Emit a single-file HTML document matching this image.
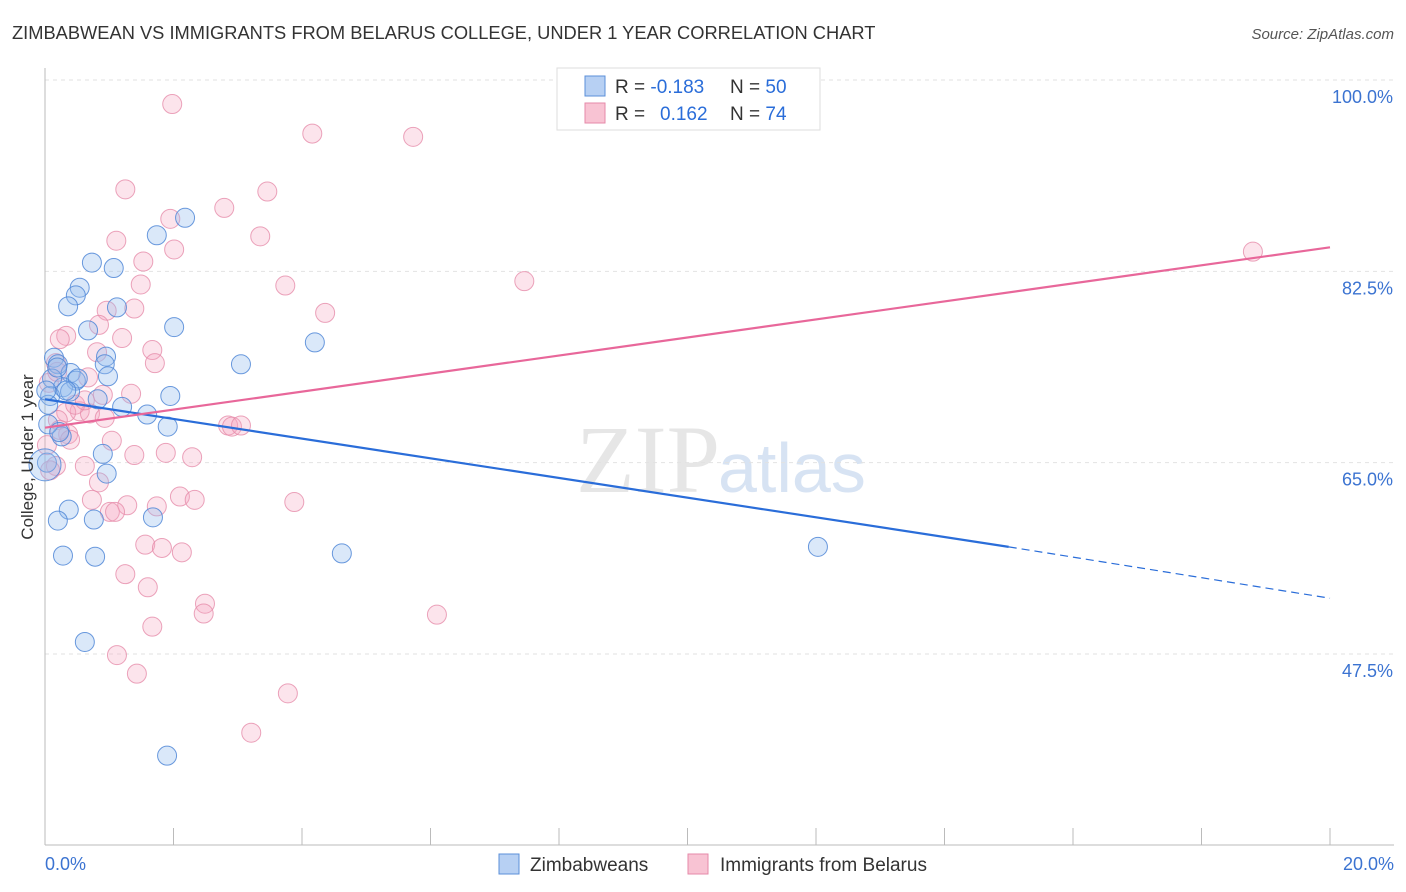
<!DOCTYPE html>
<html><head><meta charset="utf-8"><style>
body{margin:0;background:#fff;font-family:"Liberation Sans",sans-serif}
svg{display:block}
</style></head><body>
<svg id="chart" width="1406" height="892" xmlns="http://www.w3.org/2000/svg">
<text x="12" y="39" font-size="18.3" fill="#333">ZIMBABWEAN VS IMMIGRANTS FROM BELARUS COLLEGE, UNDER 1 YEAR CORRELATION CHART</text>
<text x="1394" y="39" font-size="15" fill="#555" font-style="italic" text-anchor="end">Source: ZipAtlas.com</text>
<text x="720" y="492" font-size="96" fill="#e6e6e6" text-anchor="end" font-family="Liberation Serif">ZIP</text>
<text x="718" y="492" font-size="70" fill="#d7e3f3">atlas</text>
<g id="grid"></g><g id="axes"></g><g id="pts"></g><g id="lines"></g>
<text x="33" y="457" font-size="17" fill="#333" text-anchor="middle" transform="rotate(-90 33 457)">College, Under 1 year</text>
<g>
<rect x="557" y="68" width="263" height="62" fill="#fff" stroke="#ddd"/>
<rect x="585" y="76" width="20" height="20" fill="#b7d0f3" stroke="#5b8fd8"/>
<rect x="585" y="103" width="20" height="20" fill="#f8c3d3" stroke="#e68aa8"/>
<text x="615" y="93" font-size="19" fill="#333">R = <tspan fill="#2a6dd9">-0.183</tspan><tspan x="730">N = </tspan><tspan fill="#2a6dd9">50</tspan></text>
<text x="615" y="120" font-size="19" fill="#333">R = <tspan x="660" fill="#2a6dd9">0.162</tspan><tspan x="730">N = </tspan><tspan fill="#2a6dd9">74</tspan></text>
</g>
<g>
<rect x="499" y="854" width="20" height="20" fill="#b7d0f3" stroke="#5b8fd8"/>
<text x="530" y="871" font-size="19" fill="#333">Zimbabweans</text>
<rect x="688" y="854" width="20" height="20" fill="#f8c3d3" stroke="#e68aa8"/>
<text x="720" y="871" font-size="19" fill="#333">Immigrants from Belarus</text>
</g>
</svg>
<script>
const blueX=[2.18,1.74,0.73,1.07,0.54,0.48,0.36,1.12,2.01,0.67,3.05,4.20,0.14,0.95,0.20,0.93,0.98,0.40,0.48,0.28,0.39,0.82,1.95,1.20,1.59,1.91,0.08,0.05,0.26,0.05,0.90,0.96,0.03,1.68,0.37,0.20,0.76,0.28,0.78,4.62,12.03,0.62,1.90,0.0,0.11,0.22,0.02,0.19,0.51,0.33];
const blueY=[87.4,85.8,83.3,82.8,81.0,80.3,79.3,79.2,77.4,77.1,74.0,76.0,74.6,74.7,74.0,74.0,72.9,73.2,72.5,71.9,71.5,70.8,71.1,70.1,69.4,68.3,71.1,70.3,67.4,68.5,65.8,64.0,65.0,60.0,60.7,59.7,59.8,56.5,56.4,56.7,57.3,48.6,38.2,64.8,72.7,67.8,71.6,73.7,72.7,71.6];
const pinkX=[1.98,4.16,5.73,1.25,3.46,2.79,1.95,2.01,3.35,1.11,1.53,3.74,1.49,7.46,4.36,1.39,0.96,0.84,0.33,0.23,1.20,1.67,0.81,1.71,0.17,0.67,0.06,1.34,0.90,0.54,0.33,0.70,2.85,2.91,3.05,0.20,1.04,0.36,2.29,1.88,1.39,0.62,0.17,0.03,0.84,2.10,2.33,1.74,1.28,3.88,1.01,0.73,1.09,1.56,1.82,2.13,1.25,1.60,2.49,2.47,6.10,1.67,1.12,1.43,3.78,3.21,18.80,0.19,0.47,0.08,0.62,0.23,0.93,0.39];
const pinkY=[97.8,95.1,94.8,90.0,89.8,88.3,87.3,84.5,85.7,85.3,83.4,81.2,81.3,81.6,78.7,79.1,78.9,77.6,76.6,76.3,76.4,75.3,75.1,74.1,74.1,72.8,72.3,71.3,71.2,69.7,69.6,69.5,68.4,68.3,68.4,68.9,67.0,67.6,65.5,65.9,65.7,64.7,64.7,66.6,63.2,61.9,61.6,61.0,61.1,61.4,60.5,61.6,60.5,57.5,57.2,56.8,54.8,53.6,52.1,51.2,51.1,50.0,47.4,45.7,43.9,40.3,84.3,73.3,70.3,64.3,70.7,68.0,69.1,67.1];
const yTicks=[100,82.5,65,47.5];
const yTickLabels=["100.0%","82.5%","65.0%","47.5%"];
const xTickLabels=["0.0%","20.0%"];
const blueTrend=[70.8,57.3,15,52.6];
const pinkTrend=[68.2,84.7];
const NS="http://www.w3.org/2000/svg";
const X0=45,X1=1330,YT=80,YB=654;
const sx=v=>X0+v/20*(X1-X0);
const sy=v=>YT+(100-v)/(100-47.5)*(YB-YT);
function mk(t,a,p){const e=document.createElementNS(NS,t);for(const k in a)e.setAttribute(k,a[k]);p.appendChild(e);return e;}
const grid=document.getElementById('grid'),axes=document.getElementById('axes');
yTicks.forEach((t,i)=>{
 const l=mk('line',{x1:X0,x2:1394,y1:sy(t),y2:sy(t),stroke:'#e2e2e2','stroke-dasharray':'4,4'},grid);
 
 
 const tx=mk('text',{x:1393,y:sy(t)+23,'font-size':18,fill:'#3b73d1','text-anchor':'end'},axes);
 tx.textContent=yTickLabels[i];
 
 
});
const ax=mk('line',{x1:X0,x2:X0,y1:68,y2:845,stroke:'#bbb'},axes);


const bx=mk('line',{x1:X0,x2:1394,y1:845,y2:845,stroke:'#bbb'},axes);


for(let i=0;i<=10;i++){
 const tk=mk('line',{x1:sx(i*2),x2:sx(i*2),y1:828,y2:845,stroke:'#bbb'},axes);
 
 
}
[[0,'start',X0],[1,'end',1394]].forEach(([i,a,x])=>{
 const t=mk('text',{x:x,y:870,'font-size':18,fill:'#3b73d1','text-anchor':a},axes);
 t.textContent=xTickLabels[i];
 
 
});
const pts=document.getElementById('pts');
pinkX.forEach((x,i)=>{
 const c=mk('circle',{cx:sx(x),cy:sy(pinkY[i]),r:9.5,fill:'rgba(244,165,192,0.3)',stroke:'rgba(230,140,170,0.8)','stroke-width':1},pts);
 
 
});
blueX.forEach((x,i)=>{
 const c=mk('circle',{cx:sx(x),cy:sy(blueY[i]),r:x===0?16:9.5,fill:'rgba(150,188,238,0.35)',stroke:'rgba(80,135,215,0.85)','stroke-width':1},pts);
 
 
});
const lines=document.getElementById('lines');
const bl=mk('line',{x1:sx(0),y1:sy(blueTrend[0]),x2:sx(blueTrend[2]),y2:sy(blueTrend[1]),stroke:'#2a6dd9','stroke-width':2.2},lines);


const bd=mk('line',{x1:sx(blueTrend[2]),y1:sy(blueTrend[1]),x2:sx(20),y2:sy(blueTrend[3]),stroke:'#2a6dd9','stroke-width':1.2,'stroke-dasharray':'8,5'},lines);


const pl=mk('line',{x1:sx(0),y1:sy(pinkTrend[0]),x2:sx(20),y2:sy(pinkTrend[1]),stroke:'#e8679a','stroke-width':2.2},lines);


</script>
</body></html>
